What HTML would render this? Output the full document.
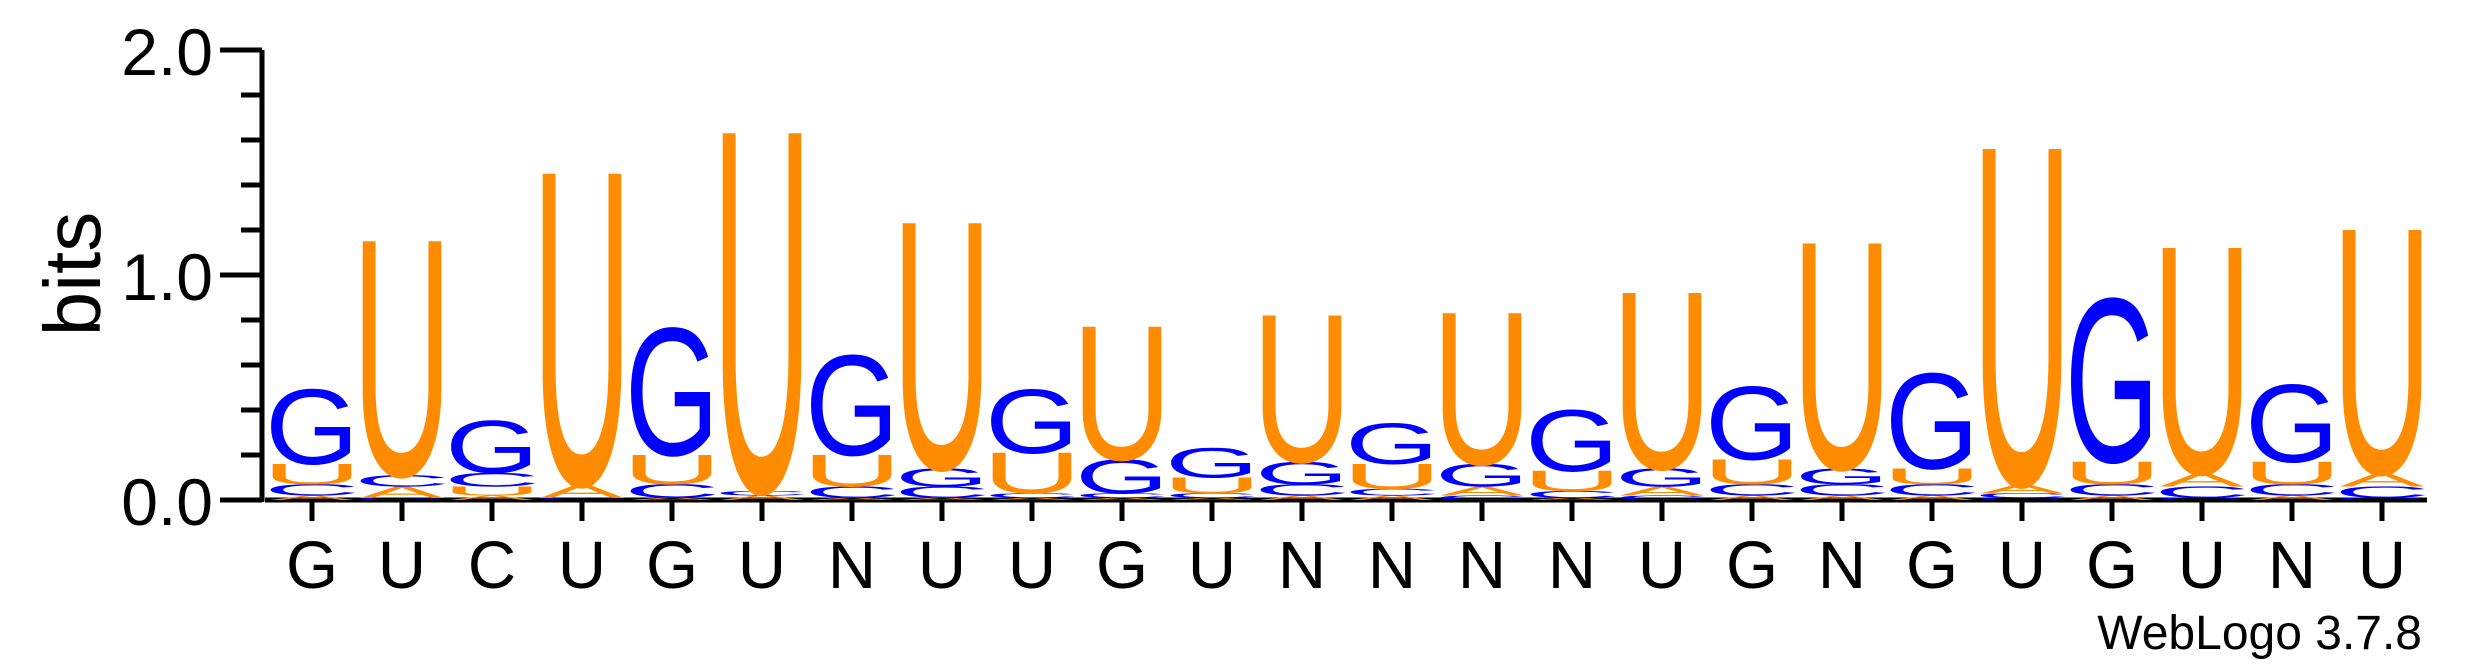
<!DOCTYPE html>
<html><head><meta charset="utf-8"><style>
html,body{margin:0;padding:0;background:#fff;}
svg{display:block;}
text{font-family:"Liberation Sans",Arial,sans-serif;}
</style></head><body>
<svg id="logo" width="2475" height="667" viewBox="0 0 2475 667" xmlns="http://www.w3.org/2000/svg">
<g id="axes"></g>
<g id="stacks"></g>
<text x="0" y="0" font-size="80" text-anchor="middle" transform="translate(100,274) rotate(-90)">bits</text>
<text x="2422" y="649" font-size="48" text-anchor="end">WebLogo 3.7.8</text>
</svg>
<script>
const positions = ["G","U","C","U","G","U","N","U","U","G","U","N","N","N","N","U","G","N","G","U","G","U","N","U"];
const bitsA = [0.02,0.05,0.02,0.06,0.01,0.02,0.01,0.01,0.01,0.01,0.01,0.02,0.02,0.04,0.01,0.04,0.02,0.02,0.02,0.04,0.02,0.06,0.02,0.06];
const bitsC = [0.05,0.05,0.06,0.01,0.06,0.02,0.05,0.05,0.02,0.02,0.02,0.05,0.03,0.02,0.03,0.02,0.05,0.05,0.05,0.02,0.05,0.05,0.05,0.05];
const bitsG = [0.33,0.01,0.23,0.00,0.56,0.00,0.44,0.08,0.28,0.15,0.13,0.10,0.18,0.10,0.27,0.08,0.32,0.07,0.42,0.01,0.72,0.01,0.34,0.01];
const bitsU = [0.09,1.04,0.04,1.38,0.13,1.59,0.14,1.09,0.18,0.59,0.07,0.65,0.11,0.67,0.09,0.78,0.11,1.00,0.07,1.49,0.10,1.00,0.10,1.08];
const yTicks = [0,0.2,0.4,0.6,0.8,1.0,1.2,1.4,1.6,1.8,2.0];
const yLabels = ["0.0","1.0","2.0"];

const NS="http://www.w3.org/2000/svg";
const x0=312, pitch=90, base=500, perBit=225, colW=80;
function xPos(i){return x0+i*pitch;}
function yPos(v){return base-v*perBit;}
const colors={A:"#FF8C00",U:"#FF8C00",C:"#0000FF",G:"#0000FF"};
const inkRatio={A:0.95,U:0.80,G:0.85,C:0.83};
const axes=document.getElementById('axes');
function mk(tag,attrs,parent){const e=document.createElementNS(NS,tag);for(const k in attrs)e.setAttribute(k,attrs[k]);parent.appendChild(e);return e;}

const yl=mk('line',{x1:262,y1:yPos(2),x2:262,y2:base+2,stroke:"#000","stroke-width":5},axes);


const xl=mk('line',{x1:265,y1:base,x2:2427,y2:base,stroke:"#000","stroke-width":5},axes);


yTicks.forEach(v=>{
  const major=Math.abs(v-Math.round(v))<1e-6;
  const t=mk('line',{x1:major?220:241,y1:yPos(v),x2:262,y2:yPos(v),stroke:"#000","stroke-width":5},axes);
  
  
});
yLabels.forEach(s=>{
  const v=parseFloat(s);
  const t=mk('text',{x:213,y:yPos(v)+25,"font-size":66,"text-anchor":"end"},axes);
  t.textContent=s;
  
  
});
positions.forEach((p,i)=>{
  const t=mk('line',{x1:xPos(i),y1:base,x2:xPos(i),y2:521,stroke:"#000","stroke-width":5},axes);
  
  
  const l=mk('text',{x:xPos(i),y:588,"font-size":67,"text-anchor":"middle"},axes);
  l.textContent=p;
  
  
});

const stacks=document.getElementById('stacks');
positions.forEach((p,i)=>{
  const g=mk('g',{},stacks);
  
  
  const letters=[["A",bitsA[i]],["C",bitsC[i]],["G",bitsG[i]],["U",bitsU[i]]].filter(d=>d[1]>0).sort((a,b)=>a[1]-b[1]);
  let cum=0;
  letters.forEach(([L,h])=>{
    const bottom=yPos(cum), hp=h*perBit;
    cum+=h;
    const fs=100, capH=68.8;
    const tl=colW/inkRatio[L];
    const t=mk('text',{x:0,y:0,"font-size":fs,fill:colors[L],
      textLength:tl,lengthAdjust:"spacingAndGlyphs",
      transform:`translate(${xPos(i)-tl/2},${bottom}) scale(1,${hp/capH})`},g);
    t.textContent=L;
    
    
  });
});
</script>
</body></html>
